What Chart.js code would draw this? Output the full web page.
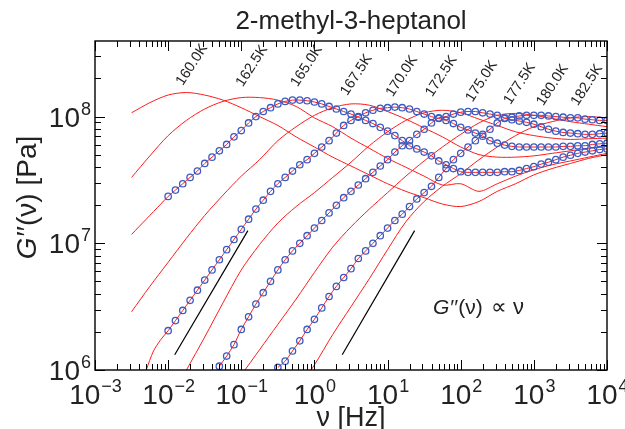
<!DOCTYPE html>
<html>
<head>
<meta charset="utf-8">
<script src="https://cdn.jsdelivr.net/npm/chart.js@4/dist/chart.umd.min.js"></script>
<style>
  html, body { margin: 0; padding: 0; background: #fff; }
  #wrap { width: 625px; height: 429px; }
</style>
</head>
<body>
<div id="wrap"><canvas id="chart" width="625" height="429"></canvas></div>
<script>
// temperatures, one curve each
const temps = ['160.0K', '162.5K', '165.0K', '167.5K', '170.0K', '172.5K', '175.0K', '177.5K', '180.0K', '182.5K'];

// frequency grids, log10(nu / Hz)
const logFreqFine = [-2.5, -2.4, -2.3, -2.2, -2.1, -2.0, -1.9, -1.8, -1.7, -1.6, -1.5, -1.4, -1.3, -1.2, -1.1,
  -1.0, -0.9, -0.8, -0.7, -0.6, -0.5, -0.4, -0.3, -0.2, -0.1, 0.0, 0.1, 0.2, 0.3, 0.4, 0.5, 0.6, 0.7, 0.8, 0.9,
  1.0, 1.1, 1.2, 1.3, 1.4, 1.5, 1.6, 1.7, 1.8, 1.9, 2.0, 2.1, 2.2, 2.3, 2.4, 2.5, 2.6, 2.7, 2.8, 2.9,
  3.0, 3.1, 3.2, 3.3, 3.4, 3.5, 3.6, 3.7, 3.8, 3.9, 4.0];
const logFreqCoarse = [-2.5, -2.25, -2.0, -1.75, -1.5, -1.25, -1.0, -0.75, -0.5, -0.25, 0.0, 0.25, 0.5, 0.75,
  1.0, 1.25, 1.5, 1.75, 2.0, 2.25, 2.5, 2.75, 3.0, 3.25, 3.5, 3.75, 4.0];

// log10(G'' / Pa)
const logG160 = [8.03, 8.11, 8.17, 8.19, 8.17, 8.13, 8.07, 8.00, 7.93, 7.84, 7.76, 7.68, 7.61, 7.54, 7.47, 7.41,
  7.36, 7.31, 7.29, 7.33, 7.41, 7.47, 7.54, 7.59, 7.63, 7.67, 7.70];
const logG162 = [7.52, 7.69, 7.85, 7.97, 8.06, 8.12, 8.15, 8.15, 8.13, 8.08, 7.99, 7.92, 7.83, 7.75, 7.67, 7.60,
  7.53, 7.46, 7.47, 7.41, 7.47, 7.53, 7.58, 7.62, 7.65, 7.68, 7.71];
const logG165 = [7.07, 7.13, 7.19, 7.25, 7.31, 7.37, 7.42, 7.47, 7.52, 7.57, 7.63, 7.68, 7.73, 7.78, 7.84, 7.89,
  7.95, 8.00, 8.04, 8.07, 8.10, 8.12, 8.13, 8.13, 8.125, 8.115, 8.10, 8.08, 8.06, 8.04, 8.02, 7.995, 7.97, 7.945,
  7.915, 7.885, 7.85, 7.81, 7.77, 7.745, 7.72, 7.69, 7.65, 7.62, 7.59, 7.565, 7.56, 7.56, 7.56, 7.56, 7.56, 7.565,
  7.565, 7.575, 7.59, 7.605, 7.625, 7.64, 7.66, 7.68, 7.695, 7.71, 7.72, 7.73, 7.74, 7.745];
const logG167 = [6.46, 6.66, 6.85, 7.04, 7.22, 7.38, 7.53, 7.66, 7.81, 7.92, 8.01, 8.07, 8.10, 8.09, 8.04, 7.98,
  7.91, 7.84, 7.76, 7.70, 7.68, 7.68, 7.69, 7.71, 7.73, 7.75, 7.765];
const logG170 = [null, null, 6.00, 6.15, 6.24, 6.31, 6.39, 6.47, 6.55, 6.63, 6.71, 6.79, 6.87, 6.95, 7.03, 7.11,
  7.19, 7.27, 7.34, 7.41, 7.47, 7.52, 7.57, 7.62, 7.66, 7.71, 7.76, 7.81, 7.87, 7.93, 7.97, 8.00, 8.03, 8.05,
  8.065, 8.07, 8.075, 8.07, 8.06, 8.04, 8.02, 8.00, 7.985, 7.97, 7.945, 7.915, 7.895, 7.87, 7.845, 7.81, 7.79,
  7.775, 7.765, 7.76, 7.76, 7.76, 7.76, 7.76, 7.76, 7.765, 7.765, 7.77, 7.77, 7.78, 7.785, 7.79];
const logG172 = [null, null, null, 6.00, 6.26, 6.53, 6.79, 6.99, 7.16, 7.29, 7.40, 7.52, 7.64, 7.77, 7.88, 7.97,
  8.03, 8.05, 8.03, 7.98, 7.93, 7.88, 7.85, 7.83, 7.82, 7.825, 7.83];
const logG175 = [null, null, null, null, null, null, null, null, null, null, null, null, 6.03, 6.11, 6.20, 6.32,
  6.42, 6.52, 6.61, 6.70, 6.79, 6.87, 6.94, 7.00, 7.06, 7.12, 7.18, 7.24, 7.30, 7.36, 7.41, 7.46, 7.51, 7.56,
  7.61, 7.66, 7.72, 7.77, 7.81, 7.86, 7.90, 7.95, 7.99, 8.00, 8.02, 8.035, 8.04, 8.04, 8.03, 8.02, 8.01, 7.99,
  7.975, 7.965, 7.955, 7.94, 7.92, 7.90, 7.885, 7.875, 7.87, 7.865, 7.86, 7.86, 7.865, 7.87];
const logG177 = [null, null, null, null, null, null, 5.96, 6.16, 6.36, 6.56, 6.77, 6.97, 7.13, 7.27, 7.40, 7.53,
  7.65, 7.76, 7.86, 7.95, 8.01, 8.025, 8.01, 7.985, 7.96, 7.94, 7.92];
const logG180 = [null, null, null, null, null, null, null, null, null, null, null, null, null, null, null, null,
  null, null, null, null, 6.02, 6.07, 6.15, 6.23, 6.32, 6.40, 6.49, 6.58, 6.66, 6.73, 6.80, 6.88, 6.94, 7.00,
  7.06, 7.12, 7.18, 7.23, 7.29, 7.35, 7.40, 7.45, 7.52, 7.59, 7.66, 7.71, 7.76, 7.81, 7.86, 7.90, 7.95, 7.985,
  7.995, 8.005, 8.01, 8.01, 8.01, 8.005, 8.00, 7.995, 7.99, 7.99, 7.98, 7.975, 7.97, 7.97];
const logG182 = [null, null, null, null, null, null, null, null, null, 5.83, 6.04, 6.28, 6.50, 6.72, 6.95, 7.17,
  7.33, 7.45, 7.55, 7.66, 7.76, 7.85, 7.92, 7.96, 7.99, 8.00, 7.99];

const curves = [logG160, logG162, logG165, logG167, logG170, logG172, logG175, logG177, logG180, logG182];
const grids = [logFreqCoarse, logFreqCoarse, logFreqFine, logFreqCoarse, logFreqFine, logFreqCoarse,
  logFreqFine, logFreqCoarse, logFreqFine, logFreqCoarse];
// measured points (circles) start here, log10 Hz
const circleFrom = [null, null, -2.0, null, -2.0, null, -1.3, null, -0.5, null];

// where the temperature labels sit (log10 Hz, log10 Pa)
const labelLogF = [-1.80, -0.98, -0.23, 0.45, 1.07, 1.61, 2.16, 2.68, 3.13, 3.60];
const labelLogG = [8.24, 8.23, 8.23, 8.16, 8.15, 8.15, 8.11, 8.09, 8.08, 8.08];

// G'' ~ nu guide lines: [logF1, logG1, logF2, logG2]
const slopeLines = [[-1.91, 6.12, -0.91, 7.10], [0.38, 6.12, 1.37, 7.10]];

const FONT = '"Liberation Sans", Arial, Helvetica, sans-serif';
const RED = '#ff1a1a';
const BLUE = '#3b5bc4';

function toPoints(grid, vals, from) {
  const out = [];
  grid.forEach((lf, i) => {
    if (vals[i] == null) return;
    if (from != null && lf < from - 1e-9) return;
    out.push({ x: Math.pow(10, lf), y: Math.pow(10, vals[i]) });
  });
  return out;
}

const datasets = [];
curves.forEach((vals, k) => {
  if (circleFrom[k] != null) {
    datasets.push({
      label: temps[k] + ' data',
      data: toPoints(grids[k], vals, circleFrom[k]),
      showLine: false,
      pointRadius: 3.2,
      pointBorderWidth: 1.3,
      pointBorderColor: BLUE,
      pointBackgroundColor: 'rgba(0,0,0,0)',
      order: 0,
      clip: 0
    });
  }
  datasets.push({
    label: temps[k],
    data: toPoints(grids[k], vals, null),
    showLine: true,
    borderColor: RED,
    borderWidth: 1,
    pointRadius: 0,
    tension: 0.3,
    order: 1,
    clip: 0
  });
});
slopeLines.forEach((s, k) => {
  datasets.push({
    label: 'slope ' + k,
    data: [{ x: Math.pow(10, s[0]), y: Math.pow(10, s[1]) }, { x: Math.pow(10, s[2]), y: Math.pow(10, s[3]) }],
    showLine: true,
    borderColor: '#000',
    borderWidth: 1.2,
    pointRadius: 0,
    order: 1
  });
});

function drawPow(ctx, exp, x, y, align) {
  ctx.font = '28px ' + FONT;
  const w1 = ctx.measureText('10').width;
  ctx.font = '18px ' + FONT;
  const w2 = ctx.measureText(exp).width;
  const x0 = align === 'center' ? x - (w1 + w2) / 2 : x - (w1 + w2);
  ctx.textAlign = 'left';
  ctx.textBaseline = 'alphabetic';
  ctx.font = '28px ' + FONT;
  ctx.fillText('10', x0, y);
  ctx.font = '18px ' + FONT;
  ctx.fillText(exp, x0 + w1 + 1, y - 12);
}

const frame = {
  id: 'frame',
  afterDraw(chart) {
    const ctx = chart.ctx, a = chart.chartArea;
    const xs = chart.scales.x, ys = chart.scales.y;
    ctx.save();
    ctx.strokeStyle = '#000';
    ctx.fillStyle = '#000';
    ctx.lineWidth = 1.4;
    ctx.strokeRect(a.left, a.top, a.right - a.left, a.bottom - a.top);

    // ticks inside the frame
    ctx.lineWidth = 1;
    ctx.beginPath();
    for (let d = -3; d <= 4; d++) {
      for (let m = 1; m <= 9; m++) {
        const v = m * Math.pow(10, d);
        if (v > 1e4 * 1.0001) break;
        const px = Math.round(xs.getPixelForValue(v)) + 0.5;
        const len = m === 1 ? 10 : 6;
        ctx.moveTo(px, a.bottom); ctx.lineTo(px, a.bottom - len);
        ctx.moveTo(px, a.top); ctx.lineTo(px, a.top + len);
      }
    }
    for (let d = 6; d <= 8; d++) {
      for (let m = 1; m <= 9; m++) {
        const v = m * Math.pow(10, d);
        if (v > ys.max) break;
        const py = Math.round(ys.getPixelForValue(v)) + 0.5;
        const len = m === 1 ? 10 : 6;
        ctx.moveTo(a.left, py); ctx.lineTo(a.left + len, py);
        ctx.moveTo(a.right, py); ctx.lineTo(a.right - len, py);
      }
    }
    ctx.stroke();

    // tick labels
    ctx.fillStyle = '#222';
    for (let d = -3; d <= 4; d++) {
      drawPow(ctx, d < 0 ? '\u2212' + (-d) : String(d), xs.getPixelForValue(Math.pow(10, d)), 404, 'center');
    }
    for (let d = 6; d <= 8; d++) {
      drawPow(ctx, String(d), 90, ys.getPixelForValue(Math.pow(10, d)) + 10, 'right');
    }

    // title and axis titles
    ctx.textAlign = 'center';
    ctx.font = '26px ' + FONT;
    ctx.fillText('2-methyl-3-heptanol', (a.left + a.right) / 2, 29);
    ctx.font = '27px ' + FONT;
    ctx.fillText('\u03bd [Hz]', (a.left + a.right) / 2, 426);

    ctx.save();
    ctx.translate(36, 198);
    ctx.rotate(-Math.PI / 2);
    ctx.textAlign = 'left';
    ctx.font = 'italic 28px ' + FONT;
    const gW = ctx.measureText('G').width;
    ctx.font = '28px ' + FONT;
    const rest = '\u2032\u2032(\u03bd) [Pa]';
    const rW = ctx.measureText(rest).width;
    const x0 = -(gW + rW) / 2;
    ctx.font = 'italic 28px ' + FONT;
    ctx.fillText('G', x0, 0);
    ctx.font = '28px ' + FONT;
    ctx.fillText(rest, x0 + gW + 1, 0);
    ctx.restore();

    // temperature labels, rotated
    ctx.font = '14.5px ' + FONT;
    ctx.textAlign = 'left';
    temps.forEach((t, k) => {
      const px = xs.getPixelForValue(Math.pow(10, labelLogF[k]));
      const py = ys.getPixelForValue(Math.pow(10, labelLogG[k]));
      ctx.save();
      ctx.translate(px, py);
      ctx.rotate(-57 * Math.PI / 180);
      ctx.fillText(t, 0, 0);
      ctx.restore();
    });

    // proportionality note
    ctx.font = 'italic 21px ' + FONT;
    ctx.textAlign = 'left';
    const gx = 433;
    ctx.fillText('G', gx, 314);
    const gw = ctx.measureText('G').width;
    ctx.font = '21px ' + FONT;
    ctx.fillText('\u2032\u2032(\u03bd)', gx + gw + 1, 314);
    ctx.font = '22px ' + FONT;
    ctx.fillText('\u221d', 491, 314);
    ctx.fillText('\u03bd', 513, 314);
    ctx.restore();
  }
};

new Chart(document.getElementById('chart').getContext('2d'), {
  type: 'scatter',
  data: { datasets },
  options: {
    responsive: false,
    animation: false,
    devicePixelRatio: 1,
    layout: { padding: { left: 95, right: 18, top: 41, bottom: 59 } },
    plugins: { legend: { display: false }, tooltip: { enabled: false } },
    scales: {
      x: { type: 'logarithmic', min: 1e-3, max: 1e4, display: false },
      y: { type: 'logarithmic', min: 1e6, max: 3.95e8, display: false }
    }
  },
  plugins: [frame]
});
</script>
</body>
</html>
